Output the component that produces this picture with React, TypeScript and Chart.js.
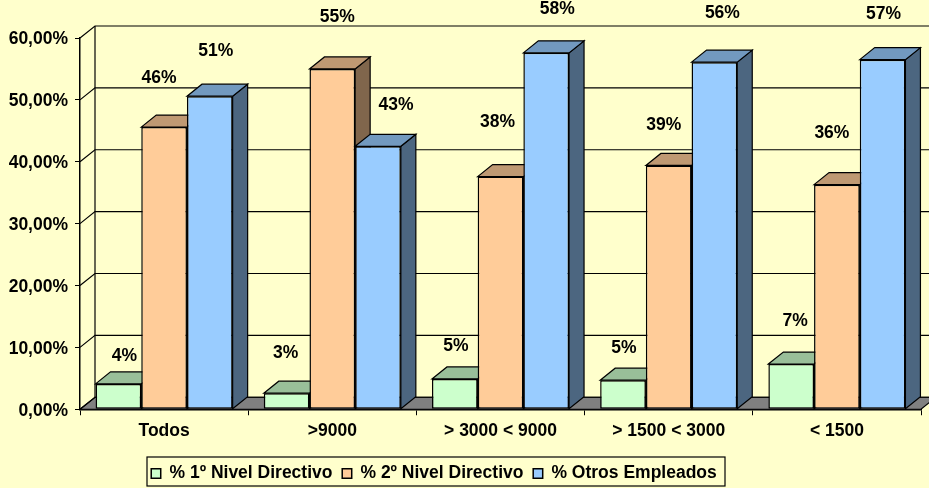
import React, { useEffect, useRef } from "react";
import { Chart, registerables } from "chart.js";

Chart.register(...registerables);

const categories = ["Todos", ">9000", "> 3000 < 9000", "> 1500 < 3000", "< 1500"];
const nivel1 = [4.1, 2.6, 4.9, 4.7, 7.3];
const nivel2 = [45.6, 55.0, 37.6, 39.4, 36.3];
const otros = [50.6, 42.5, 57.6, 56.1, 56.5];
const labels1 = ["4%", "3%", "5%", "5%", "7%"];
const labels2 = ["46%", "55%", "38%", "39%", "36%"];
const labels3 = ["51%", "43%", "58%", "56%", "57%"];

const FONT = "'Liberation Sans', Arial, sans-serif";
const FONT_SIZE = 17.5;
const DX = 15;
const DY = -12;
const BG = "#FFFFCC";
const LEGEND_BOX = { left: 147, top: 457, right: 725, bottom: 486 };

// label displacement from the middle of each bar's top front edge
const nudges: number[][][] = [
  [[6, -28], [-1, -40], [1, -33], [1, -32], [4, -43]],
  [[-5, -49], [5, -52], [-3, -54], [-5, -40], [-5, -51]],
  [[6, -45], [18, -41], [11, -44], [8, -49], [1, -45]],
];

function poly(ctx: CanvasRenderingContext2D, pts: number[][], fill: string | null, stroke = "#000", lw = 1.2) {
  ctx.beginPath();
  pts.forEach((p, i) => (i ? ctx.lineTo(p[0], p[1]) : ctx.moveTo(p[0], p[1])));
  ctx.closePath();
  if (fill) {
    ctx.fillStyle = fill;
    ctx.fill();
  }
  ctx.strokeStyle = stroke;
  ctx.lineWidth = lw;
  ctx.stroke();
}

const shade3d = {
  id: "shade3d",
  afterLayout(chart: any) {
    chart.legend.left = 68;
    chart.legend.right = 800;
    chart.legend.top = 455;
  },
  beforeDatasetsDraw(chart: any) {
    const ctx = chart.ctx as CanvasRenderingContext2D;
    const { left, right, bottom } = chart.chartArea;
    const yScale = chart.scales.y;
    ctx.save();
    poly(ctx, [[left, bottom], [left + DX, bottom + DY], [right + DX, bottom + DY], [right, bottom]], "#808080");
    yScale.ticks.forEach((t: any) => {
      const y = yScale.getPixelForValue(t.value);
      ctx.beginPath();
      ctx.moveTo(left, y);
      ctx.lineTo(left + DX, y + DY);
      ctx.lineTo(right + DX, y + DY);
      ctx.strokeStyle = "#000";
      ctx.lineWidth = 1.2;
      ctx.stroke();
    });
    ctx.beginPath();
    ctx.moveTo(left + DX, yScale.getPixelForValue(60) + DY);
    ctx.lineTo(left + DX, bottom + DY);
    ctx.stroke();
    chart.data.datasets.forEach((ds: any, di: number) => {
      chart.getDatasetMeta(di).data.forEach((bar: any) => {
        const { x, y, base, width } = bar.getProps(["x", "y", "base", "width"]);
        const l = x - width / 2;
        const r = x + width / 2;
        poly(ctx, [[r, y], [r + DX, y + DY], [r + DX, base + DY], [r, base]], ds.sideColor);
        poly(ctx, [[l, y], [l + DX, y + DY], [r + DX, y + DY], [r, y]], ds.topColor);
        bar.draw(ctx);
      });
    });
    ctx.restore();
    return false;
  },
  afterDraw(chart: any) {
    const ctx = chart.ctx as CanvasRenderingContext2D;
    ctx.save();
    ctx.fillStyle = "#000";
    ctx.font = `bold ${FONT_SIZE}px ${FONT}`;
    ctx.textAlign = "center";
    ctx.textBaseline = "middle";
    chart.data.datasets.forEach((ds: any, di: number) => {
      chart.getDatasetMeta(di).data.forEach((bar: any, i: number) => {
        const n = nudges[di][i];
        ctx.fillText(ds.valueLabels[i], bar.x + n[0], bar.y + n[1]);
      });
    });
    const b = LEGEND_BOX;
    ctx.strokeStyle = "#000";
    ctx.lineWidth = 1.2;
    ctx.strokeRect(b.left, b.top, b.right - b.left, b.bottom - b.top);
    ctx.restore();
  },
};

function series(label: string, data: number[], front: string, top: string, side: string, valueLabels: string[]) {
  return {
    label,
    data,
    backgroundColor: front,
    borderColor: "#000",
    borderWidth: 1.5,
    borderSkipped: false,
    categoryPercentage: 0.815,
    barPercentage: 1,
    topColor: top,
    sideColor: side,
    valueLabels,
  };
}

export default function App() {
  const ref = useRef<HTMLCanvasElement>(null);
  useEffect(() => {
    const font = { family: FONT, weight: "bold" as const, size: FONT_SIZE, lineHeight: 1.2 };
    const chart = new Chart(ref.current!, {
      type: "bar",
      data: {
        labels: categories,
        datasets: [
          series("% 1º Nivel Directivo", nivel1, "#CCFFCC", "#99BF99", "#668066", labels1),
          series("% 2º Nivel Directivo", nivel2, "#FFCC99", "#BF9973", "#80664C", labels2),
          series("% Otros Empleados", otros, "#99CCFF", "#7299BF", "#4C6680", labels3),
        ],
      } as any,
      options: {
        responsive: false,
        animation: false,
        layout: { padding: { top: 38, right: 8, bottom: 2, left: 0 } },
        plugins: {
          tooltip: { enabled: false },
          legend: {
            position: "bottom",
            onClick: () => {},
            labels: {
              color: "#000",
              font,
              boxWidth: 9.5,
              boxHeight: 9.5,
              padding: 9.75,
              generateLabels: (chart: any) =>
                chart.data.datasets.map((ds: any, i: number) => ({
                  text: ds.label,
                  fillStyle: ds.backgroundColor,
                  strokeStyle: "#000",
                  lineWidth: 1.5,
                  datasetIndex: i,
                  fontColor: "#000",
                })),
            },
          },
        },
        scales: {
          x: {
            afterFit: (s: any) => {
              s.height = 39.5;
            },
            grid: { drawOnChartArea: false, tickLength: 6, color: "#000", tickColor: "#000" },
            border: { color: "#000", width: 1.5 },
            ticks: { color: "#000", font, padding: 5, maxRotation: 0 },
          },
          y: {
            min: 0,
            max: 60,
            afterFit: (s: any) => {
              s.width = 80;
            },
            grid: { drawOnChartArea: false, tickLength: 5, color: "#000", tickColor: "#000" },
            border: { color: "#000", width: 1.5 },
            ticks: {
              color: "#000",
              font,
              stepSize: 10,
              padding: 7,
              labelOffset: 1.5,
              callback: (v: any) => Number(v).toFixed(2).replace(".", ",") + "%",
            },
          },
        },
      },
      plugins: [shade3d],
    } as any);
    return () => chart.destroy();
  }, []);
  return (
    <div style={{ position: "fixed", left: 0, top: 0, width: 929, height: 488, background: BG, overflow: "hidden" }}>
      <canvas ref={ref} width={929} height={488} style={{ display: "block" }} />
    </div>
  );
}
